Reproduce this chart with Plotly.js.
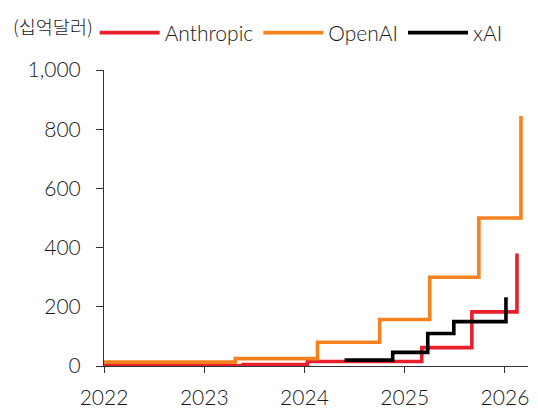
<!DOCTYPE html>
<html>
<head>
<meta charset="utf-8">
<script src="https://cdn.plot.ly/plotly-3.0.1.min.js"></script>
<style>
html,body{margin:0;padding:0;background:#fff;}
#chart{width:538px;height:416px;}
</style>
</head>
<body>
<div id="chart"></div>
<script>
// Revenue run-rate (USD billions), step series
const anthropicX = [2022.0, 2023.39, 2024.03, 2025.17, 2025.67, 2026.12];
const anthropicY = [1, 5, 15, 62, 183, 380];
const openaiX = [2022.0, 2023.31, 2024.13, 2024.75, 2025.25, 2025.74, 2026.16];
const openaiY = [13, 25, 80, 157, 300, 500, 845];
const xaiX = [2024.40, 2024.88, 2025.23, 2025.49, 2026.01];
const xaiY = [20, 46, 110, 150, 232];
const xTicks = [2022, 2023, 2024, 2025, 2026];
const xTickLabels = ['2022', '2023', '2024', '2025', '2026'];
const yTicks = [0, 200, 400, 600, 800, 1000];
const yTickLabels = ['0', '200', '400', '600', '800', '1,000'];
const unitLabel = '(십억달러)';

const FONT = 'Lato, "Noto Sans CJK KR", sans-serif';
const LW = 3.6;
const TXT = {family: FONT, size: 21, color: '#1a1a1a', weight: 300};

const traces = [
  {x: anthropicX, y: anthropicY, name: 'Anthropic', type: 'scatter', mode: 'lines',
   line: {color: '#e8202c', width: LW, shape: 'hv'}},
  {x: openaiX, y: openaiY, name: 'OpenAI', type: 'scatter', mode: 'lines',
   line: {color: '#f5821f', width: LW, shape: 'hv'}},
  {x: xaiX, y: xaiY, name: 'xAI', type: 'scatter', mode: 'lines',
   line: {color: '#000000', width: LW, shape: 'hv'}}
];

const layout = {
  width: 538, height: 416,
  margin: {l: 104, r: 10, t: 70, b: 50},
  paper_bgcolor: '#ffffff', plot_bgcolor: '#ffffff',
  font: TXT,
  showlegend: true,
  legend: {
    orientation: 'h', x: -0.022, xanchor: 'left', y: 1.125, yanchor: 'middle',
    font: TXT,
    itemwidth: 60, tracegroupgap: 0, bgcolor: 'rgba(0,0,0,0)'
  },
  xaxis: {
    range: [2022, 2026.23], tickvals: xTicks, ticktext: xTickLabels,
    showgrid: false, zeroline: false, showline: true, linecolor: '#333333', linewidth: 1,
    ticks: 'outside', ticklen: 6, tickcolor: '#333333', tickwidth: 1,
    ticklabelstandoff: 7,
    tickfont: TXT, fixedrange: true
  },
  yaxis: {
    range: [0, 1000], tickvals: yTicks, ticktext: yTickLabels,
    showgrid: false, zeroline: false, showline: true, linecolor: '#333333', linewidth: 1,
    ticks: 'outside', ticklen: 7, tickcolor: '#333333', tickwidth: 1,
    ticklabelstandoff: 11,
    tickfont: TXT, fixedrange: true
  },
  annotations: [{
    text: unitLabel, xref: 'paper', yref: 'paper', x: -0.219, y: 1.147,
    xanchor: 'left', yanchor: 'middle', showarrow: false,
    font: {family: '"Noto Sans CJK KR", sans-serif', size: 18.5, color: '#1a1a1a', weight: 300}
  }]
};

Plotly.newPlot('chart', traces, layout, {displayModeBar: false, staticPlot: true});
</script>
</body>
</html>
